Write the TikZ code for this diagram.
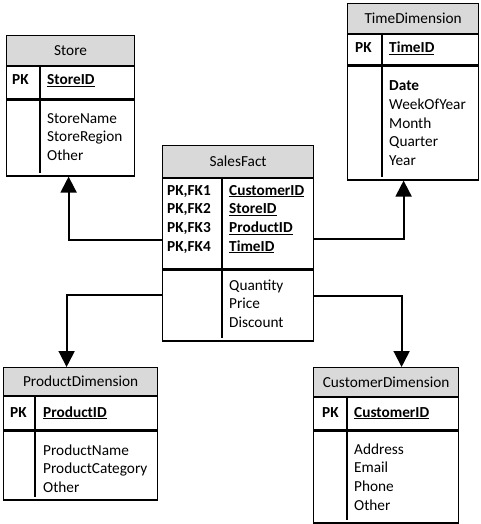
\documentclass[tikz,border=0pt]{standalone}
\usepackage{fontspec}
\setmainfont{Carlito}
\usetikzlibrary{arrows.meta}
\tikzset{
  hdr/.style={draw, fill=black!15, line width=1.2pt, anchor=north west, inner sep=0pt, font=\fontsize{15.3}{18}\selectfont},
  cell/.style={draw, line width=1.2pt, anchor=north west, inner sep=0pt},
  divider/.style={line width=1.2pt},
  txt/.style={anchor=base west, inner sep=0pt, font=\fontsize{15.3}{18}\selectfont},
  fk/.style={line width=1.9pt, -{Triangle[length=16pt,width=16pt]}}
}
\begin{document}
\begin{tikzpicture}[x=1pt,y=-1pt]
  \useasboundingbox (0,0) rectangle (480,524);

  % Store
  \node[hdr, minimum width=128pt, minimum height=30pt] (store) at (6,35) {Store};
  \node[cell, minimum width=128pt, minimum height=32pt] (storekey) at (store.south west) {};
  \node[cell, minimum width=128pt, minimum height=76pt] (storebody) at (storekey.south west) {};
  \draw[divider] (40,65) -- (40,173);
  \node[txt] (storepk) at (12,85) {\textbf{PK}};
  \node[txt] (storeid) at (47,85) {\textbf{\underline{StoreID}}};
  \foreach \a [count=\i] in {StoreName,StoreRegion,Other}
    \node[txt] (storeattr\i) at (47,{123+(\i-1)*18.8}) {\a};

  % TimeDimension
  \node[hdr, minimum width=131pt, minimum height=30pt] (time) at (347,3) {TimeDimension};
  \node[cell, minimum width=131pt, minimum height=30pt] (timekey) at (time.south west) {};
  \node[cell, minimum width=131pt, minimum height=114pt] (timebody) at (timekey.south west) {};
  \draw[divider] (382,33) -- (382,177);
  \node[txt] (timepk) at (355,53) {\textbf{PK}};
  \node[txt] (timeid) at (389,53) {\textbf{\underline{TimeID}}};
  \foreach \a [count=\i] in {\textbf{Date},WeekOfYear,Month,Quarter,Year}
    \node[txt] (timeattr\i) at (389,{91+(\i-1)*18.6}) {\a};

  % SalesFact
  \node[hdr, minimum width=151pt, minimum height=32pt] (sales) at (162,145) {SalesFact};
  \node[cell, minimum width=151pt, minimum height=90pt] (saleskey) at (sales.south west) {};
  \node[cell, minimum width=151pt, minimum height=71pt] (salesbody) at (saleskey.south west) {};
  \draw[divider] (222,177) -- (222,338);
  \foreach \k/\a [count=\i] in {1/CustomerID,2/StoreID,3/ProductID,4/TimeID} {
    \node[txt] (salespk\i) at (167,{195+(\i-1)*18.7}) {\textbf{PK,FK\k}};
    \node[txt] (salesid\i) at (229,{195+(\i-1)*18.7}) {\textbf{\underline{\a}}};
  }
  \foreach \a [count=\i] in {Quantity,Price,Discount}
    \node[txt] (salesattr\i) at (229,{290+(\i-1)*18.6}) {\a};

  % ProductDimension
  \node[hdr, minimum width=154pt, minimum height=28pt] (product) at (3,367) {ProductDimension};
  \node[cell, minimum width=154pt, minimum height=33pt] (productkey) at (product.south west) {};
  \node[cell, minimum width=154pt, minimum height=69pt] (productbody) at (productkey.south west) {};
  \draw[divider] (35,395) -- (35,497);
  \node[txt] (productpk) at (10,417) {\textbf{PK}};
  \node[txt] (productid) at (43,417) {\textbf{\underline{ProductID}}};
  \foreach \a [count=\i] in {ProductName,ProductCategory,Other}
    \node[txt] (productattr\i) at (43,{455+(\i-1)*18.7}) {\a};

  % CustomerDimension
  \node[hdr, minimum width=145pt, minimum height=29pt] (customer) at (313,367) {CustomerDimension};
  \node[cell, minimum width=145pt, minimum height=32pt] (customerkey) at (customer.south west) {};
  \node[cell, minimum width=145pt, minimum height=92pt] (customerbody) at (customerkey.south west) {};
  \draw[divider] (347,396) -- (347,520);
  \node[txt] (customerpk) at (322,417) {\textbf{PK}};
  \node[txt] (customerid) at (354,417) {\textbf{\underline{CustomerID}}};
  \foreach \a [count=\i] in {Address,Email,Phone,Other}
    \node[txt] (customerattr\i) at (354,{454+(\i-1)*18.7}) {\a};

  % foreign keys
  \draw[fk] ([yshift=-16pt]saleskey.west) -| ([xshift=-2pt]storebody.south);
  \draw[fk] ([yshift=-15pt]saleskey.east) -| ([xshift=-9.5pt]timebody.south);
  \draw[fk] ([yshift=10.5pt]salesbody.west) -| ([xshift=-14pt]product.north);
  \draw[fk] ([yshift=9.5pt]salesbody.east) -| ([xshift=15.5pt]customer.north);
\end{tikzpicture}
\end{document}
